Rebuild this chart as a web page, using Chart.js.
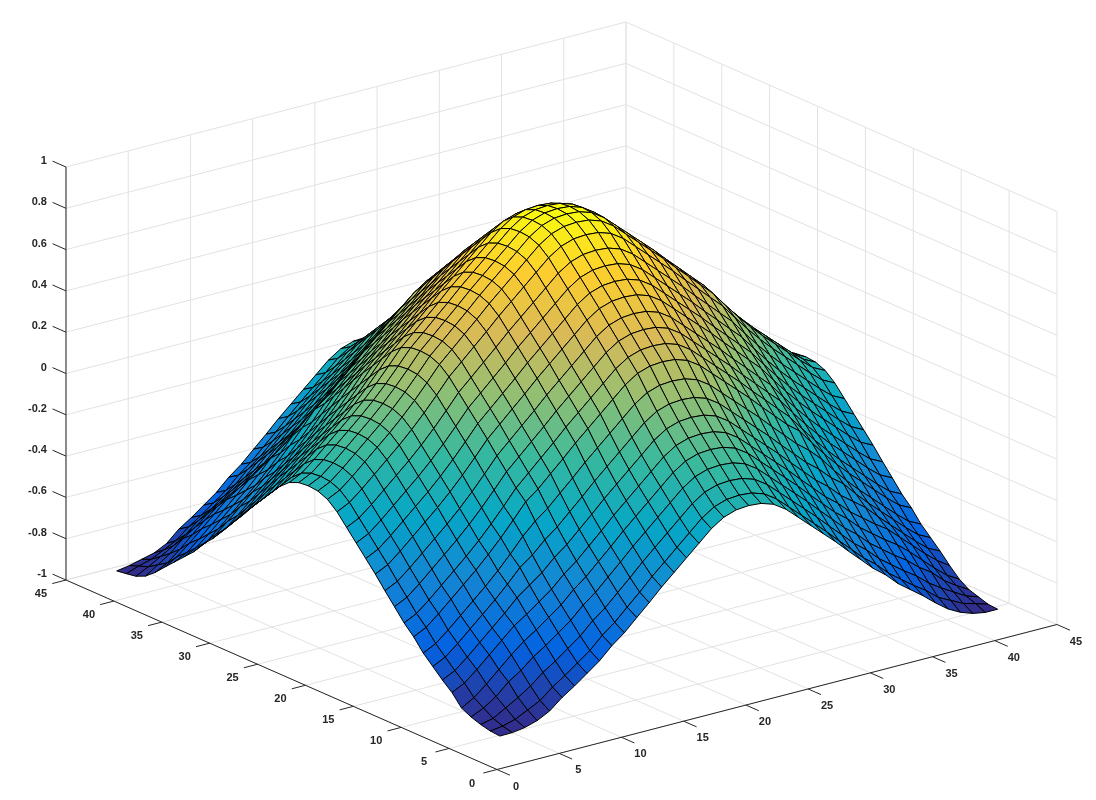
<!DOCTYPE html>
<html>
<head>
<meta charset="utf-8">
<title>Surface</title>
<script src="https://cdn.jsdelivr.net/npm/chart.js@4"></script>
<style>
    html, body { margin: 0; padding: 0; background: #fff; }
    canvas { display: block; }
</style>
</head>
<body>
<canvas id="surface-chart" width="1096" height="800"></canvas>
<script>
// Tick values and labels
const xTicks = [0, 5, 10, 15, 20, 25, 30, 35, 40, 45];
const yTicks = [0, 5, 10, 15, 20, 25, 30, 35, 40, 45];
const zTicks = [-1, -0.8, -0.6, -0.4, -0.2, 0, 0.2, 0.4, 0.6, 0.8, 1];
const zTickLabels = ['-1', '-0.8', '-0.6', '-0.4', '-0.2', '0', '0.2', '0.4', '0.6', '0.8', '1'];

// Grid positions of the surface
const gridX = [1,2,3,4,5,6,7,8,9,10,11,12,13,14,15,16,17,18,19,20,21,22,23,24,25,26,27,28,29,30,31,32,33,34,35,36,37,38,39,40,41];
const gridY = [1,2,3,4,5,6,7,8,9,10,11,12,13,14,15,16,17,18,19,20,21,22,23,24,25,26,27,28,29,30,31,32,33,34,35,36,37,38,39,40,41];

// Heights, one row per gridY
const zRows = [
[-.874,-.873,-.864,-.846,-.815,-.765,-.725,-.68,-.635,-.577,-.53,-.472,-.415,-.355,-.3,-.245,-.19,-.135,-.095,-.075,-.07,-.075,-.095,-.135,-.19,-.245,-.3,-.355,-.415,-.472,-.53,-.577,-.635,-.68,-.725,-.775,-.82,-.852,-.873,-.884,-.884],
[-.87,-.862,-.845,-.815,-.785,-.735,-.695,-.65,-.605,-.547,-.5,-.442,-.385,-.325,-.27,-.215,-.16,-.105,-.065,-.045,-.04,-.045,-.065,-.105,-.16,-.215,-.27,-.325,-.385,-.442,-.5,-.547,-.605,-.65,-.695,-.735,-.785,-.815,-.845,-.862,-.88],
[-.859,-.845,-.81,-.775,-.735,-.685,-.645,-.6,-.555,-.497,-.45,-.392,-.335,-.275,-.22,-.165,-.11,-.055,-.015,.005,.01,.005,-.015,-.055,-.11,-.165,-.22,-.275,-.335,-.392,-.45,-.497,-.555,-.6,-.645,-.685,-.735,-.775,-.81,-.845,-.865],
[-.843,-.815,-.775,-.72,-.68,-.63,-.59,-.545,-.5,-.442,-.395,-.337,-.28,-.22,-.165,-.11,-.055,0,.04,.06,.065,.06,.04,0,-.055,-.11,-.165,-.22,-.28,-.337,-.395,-.442,-.5,-.545,-.59,-.63,-.68,-.72,-.775,-.815,-.85],
[-.82,-.785,-.735,-.68,-.625,-.575,-.535,-.49,-.445,-.387,-.34,-.282,-.225,-.165,-.11,-.055,0,.055,.095,.115,.12,.115,.095,.055,0,-.055,-.11,-.165,-.225,-.282,-.34,-.387,-.445,-.49,-.535,-.575,-.625,-.68,-.735,-.785,-.82],
[-.765,-.735,-.685,-.63,-.575,-.52,-.48,-.435,-.39,-.332,-.285,-.227,-.17,-.11,-.055,0,.055,.11,.15,.17,.175,.17,.15,.11,.055,0,-.055,-.11,-.17,-.227,-.285,-.332,-.39,-.435,-.48,-.52,-.575,-.63,-.685,-.735,-.775],
[-.725,-.695,-.645,-.59,-.535,-.48,-.42,-.375,-.33,-.272,-.225,-.167,-.11,-.05,.005,.06,.115,.17,.21,.23,.235,.23,.21,.17,.115,.06,.005,-.05,-.11,-.167,-.225,-.272,-.33,-.375,-.42,-.48,-.535,-.59,-.645,-.695,-.725],
[-.68,-.65,-.6,-.545,-.49,-.435,-.375,-.31,-.265,-.207,-.16,-.102,-.045,.015,.07,.125,.18,.235,.275,.295,.3,.295,.275,.235,.18,.125,.07,.015,-.045,-.102,-.16,-.207,-.265,-.31,-.375,-.435,-.49,-.545,-.6,-.65,-.68],
[-.635,-.605,-.555,-.5,-.445,-.39,-.33,-.265,-.195,-.137,-.09,-.032,.025,.085,.14,.195,.25,.305,.345,.365,.37,.365,.345,.305,.25,.195,.14,.085,.025,-.032,-.09,-.137,-.195,-.265,-.33,-.39,-.445,-.5,-.555,-.605,-.635],
[-.577,-.547,-.497,-.442,-.387,-.332,-.272,-.207,-.137,-.064,-.017,.041,.098,.158,.213,.268,.323,.378,.418,.438,.443,.438,.418,.378,.323,.268,.213,.158,.098,.041,-.017,-.064,-.137,-.207,-.272,-.332,-.387,-.442,-.497,-.547,-.577],
[-.53,-.5,-.45,-.395,-.34,-.285,-.225,-.16,-.09,-.017,.04,.098,.155,.215,.27,.325,.38,.435,.475,.495,.5,.495,.475,.435,.38,.325,.27,.215,.155,.098,.04,-.017,-.09,-.16,-.225,-.285,-.34,-.395,-.45,-.5,-.53],
[-.472,-.442,-.392,-.337,-.282,-.227,-.167,-.102,-.032,.041,.098,.156,.213,.273,.328,.383,.438,.493,.533,.553,.558,.553,.533,.493,.438,.383,.328,.273,.213,.156,.098,.041,-.032,-.102,-.167,-.227,-.282,-.337,-.392,-.442,-.472],
[-.415,-.385,-.335,-.28,-.225,-.17,-.11,-.045,.025,.098,.155,.213,.27,.33,.385,.44,.495,.55,.59,.61,.615,.61,.59,.55,.495,.44,.385,.33,.27,.213,.155,.098,.025,-.045,-.11,-.17,-.225,-.28,-.335,-.385,-.415],
[-.355,-.325,-.275,-.22,-.165,-.11,-.05,.015,.085,.158,.215,.273,.33,.39,.445,.5,.555,.61,.65,.67,.675,.67,.65,.61,.555,.5,.445,.39,.33,.273,.215,.158,.085,.015,-.05,-.11,-.165,-.22,-.275,-.325,-.355],
[-.3,-.27,-.22,-.165,-.11,-.055,.005,.07,.14,.213,.27,.328,.385,.445,.5,.555,.61,.665,.705,.725,.73,.725,.705,.665,.61,.555,.5,.445,.385,.328,.27,.213,.14,.07,.005,-.055,-.11,-.165,-.22,-.27,-.3],
[-.245,-.215,-.165,-.11,-.055,0,.06,.125,.195,.268,.325,.383,.44,.5,.555,.61,.665,.72,.76,.78,.785,.78,.76,.72,.665,.61,.555,.5,.44,.383,.325,.268,.195,.125,.06,0,-.055,-.11,-.165,-.215,-.245],
[-.19,-.16,-.11,-.055,0,.055,.115,.18,.25,.323,.38,.438,.495,.555,.61,.665,.72,.775,.815,.835,.84,.835,.815,.775,.72,.665,.61,.555,.495,.438,.38,.323,.25,.18,.115,.055,0,-.055,-.11,-.16,-.19],
[-.135,-.105,-.055,0,.055,.11,.17,.235,.305,.378,.435,.493,.55,.61,.665,.72,.775,.83,.87,.89,.895,.89,.87,.83,.775,.72,.665,.61,.55,.493,.435,.378,.305,.235,.17,.11,.055,0,-.055,-.105,-.135],
[-.095,-.065,-.015,.04,.095,.15,.21,.275,.345,.418,.475,.533,.59,.65,.705,.76,.815,.87,.91,.93,.935,.93,.91,.87,.815,.76,.705,.65,.59,.533,.475,.418,.345,.275,.21,.15,.095,.04,-.015,-.065,-.095],
[-.075,-.045,.005,.06,.115,.17,.23,.295,.365,.438,.495,.553,.61,.67,.725,.78,.835,.89,.93,.95,.955,.95,.93,.89,.835,.78,.725,.67,.61,.553,.495,.438,.365,.295,.23,.17,.115,.06,.005,-.045,-.075],
[-.07,-.04,.01,.065,.12,.175,.235,.3,.37,.443,.5,.558,.615,.675,.73,.785,.84,.895,.935,.955,.96,.955,.935,.895,.84,.785,.73,.675,.615,.558,.5,.443,.37,.3,.235,.175,.12,.065,.01,-.04,-.07],
[-.075,-.045,.005,.06,.115,.17,.23,.295,.365,.438,.495,.553,.61,.67,.725,.78,.835,.89,.93,.95,.955,.95,.93,.89,.835,.78,.725,.67,.61,.553,.495,.438,.365,.295,.23,.17,.115,.06,.005,-.045,-.075],
[-.095,-.065,-.015,.04,.095,.15,.21,.275,.345,.418,.475,.533,.59,.65,.705,.76,.815,.87,.91,.93,.935,.93,.91,.87,.815,.76,.705,.65,.59,.533,.475,.418,.345,.275,.21,.15,.095,.04,-.015,-.065,-.095],
[-.135,-.105,-.055,0,.055,.11,.17,.235,.305,.378,.435,.493,.55,.61,.665,.72,.775,.83,.87,.89,.895,.89,.87,.83,.775,.72,.665,.61,.55,.493,.435,.378,.305,.235,.17,.11,.055,0,-.055,-.105,-.135],
[-.19,-.16,-.11,-.055,0,.055,.115,.18,.25,.323,.38,.438,.495,.555,.61,.665,.72,.775,.815,.835,.84,.835,.815,.775,.72,.665,.61,.555,.495,.438,.38,.323,.25,.18,.115,.055,0,-.055,-.11,-.16,-.19],
[-.245,-.215,-.165,-.11,-.055,0,.06,.125,.195,.268,.325,.383,.44,.5,.555,.61,.665,.72,.76,.78,.785,.78,.76,.72,.665,.61,.555,.5,.44,.383,.325,.268,.195,.125,.06,0,-.055,-.11,-.165,-.215,-.245],
[-.3,-.27,-.22,-.165,-.11,-.055,.005,.07,.14,.213,.27,.328,.385,.445,.5,.555,.61,.665,.705,.725,.73,.725,.705,.665,.61,.555,.5,.445,.385,.328,.27,.213,.14,.07,.005,-.055,-.11,-.165,-.22,-.27,-.3],
[-.355,-.325,-.275,-.22,-.165,-.11,-.05,.015,.085,.158,.215,.273,.33,.39,.445,.5,.555,.61,.65,.67,.675,.67,.65,.61,.555,.5,.445,.39,.33,.273,.215,.158,.085,.015,-.05,-.11,-.165,-.22,-.275,-.325,-.355],
[-.415,-.385,-.335,-.28,-.225,-.17,-.11,-.045,.025,.098,.155,.213,.27,.33,.385,.44,.495,.55,.59,.61,.615,.61,.59,.55,.495,.44,.385,.33,.27,.213,.155,.098,.025,-.045,-.11,-.17,-.225,-.28,-.335,-.385,-.415],
[-.472,-.442,-.392,-.337,-.282,-.227,-.167,-.102,-.032,.041,.098,.156,.213,.273,.328,.383,.438,.493,.533,.553,.558,.553,.533,.493,.438,.383,.328,.273,.213,.156,.098,.041,-.032,-.102,-.167,-.227,-.282,-.337,-.392,-.442,-.472],
[-.53,-.5,-.45,-.395,-.34,-.285,-.225,-.16,-.09,-.017,.04,.098,.155,.215,.27,.325,.38,.435,.475,.495,.5,.495,.475,.435,.38,.325,.27,.215,.155,.098,.04,-.017,-.09,-.16,-.225,-.285,-.34,-.395,-.45,-.5,-.53],
[-.577,-.547,-.497,-.442,-.387,-.332,-.272,-.207,-.137,-.064,-.017,.041,.098,.158,.213,.268,.323,.378,.418,.438,.443,.438,.418,.378,.323,.268,.213,.158,.098,.041,-.017,-.064,-.137,-.207,-.272,-.332,-.387,-.442,-.497,-.547,-.577],
[-.635,-.605,-.555,-.5,-.445,-.39,-.33,-.265,-.195,-.137,-.09,-.032,.025,.085,.14,.195,.25,.305,.345,.365,.37,.365,.345,.305,.25,.195,.14,.085,.025,-.032,-.09,-.137,-.195,-.265,-.33,-.39,-.445,-.5,-.555,-.605,-.635],
[-.68,-.65,-.6,-.545,-.49,-.435,-.375,-.31,-.265,-.207,-.16,-.102,-.045,.015,.07,.125,.18,.235,.275,.295,.3,.295,.275,.235,.18,.125,.07,.015,-.045,-.102,-.16,-.207,-.265,-.31,-.375,-.435,-.49,-.545,-.6,-.65,-.68],
[-.725,-.695,-.645,-.59,-.535,-.48,-.42,-.375,-.33,-.272,-.225,-.167,-.11,-.05,.005,.06,.115,.17,.21,.23,.235,.23,.21,.17,.115,.06,.005,-.05,-.11,-.167,-.225,-.272,-.33,-.375,-.42,-.48,-.535,-.59,-.645,-.695,-.725],
[-.77,-.735,-.685,-.63,-.575,-.52,-.48,-.435,-.39,-.332,-.285,-.227,-.17,-.11,-.055,0,.055,.11,.15,.17,.175,.17,.15,.11,.055,0,-.055,-.11,-.17,-.227,-.285,-.332,-.39,-.435,-.48,-.52,-.575,-.63,-.685,-.735,-.765],
[-.816,-.785,-.735,-.68,-.625,-.575,-.535,-.49,-.445,-.387,-.34,-.282,-.225,-.165,-.11,-.055,0,.055,.095,.115,.12,.115,.095,.055,0,-.055,-.11,-.165,-.225,-.282,-.34,-.387,-.445,-.49,-.535,-.575,-.625,-.68,-.735,-.785,-.82],
[-.854,-.815,-.775,-.72,-.68,-.63,-.59,-.545,-.5,-.442,-.395,-.337,-.28,-.22,-.165,-.11,-.055,0,.04,.06,.065,.06,.04,0,-.055,-.11,-.165,-.22,-.28,-.337,-.395,-.442,-.5,-.545,-.59,-.63,-.68,-.72,-.775,-.815,-.843],
[-.875,-.845,-.81,-.775,-.735,-.685,-.645,-.6,-.555,-.497,-.45,-.392,-.335,-.275,-.22,-.165,-.11,-.055,-.015,.005,.01,.005,-.015,-.055,-.11,-.165,-.22,-.275,-.335,-.392,-.45,-.497,-.555,-.6,-.645,-.685,-.735,-.775,-.81,-.845,-.859],
[-.883,-.862,-.845,-.815,-.785,-.735,-.695,-.65,-.605,-.547,-.5,-.442,-.385,-.325,-.27,-.215,-.16,-.105,-.065,-.045,-.04,-.045,-.065,-.105,-.16,-.215,-.27,-.325,-.385,-.442,-.5,-.547,-.605,-.65,-.695,-.735,-.785,-.815,-.845,-.862,-.87],
[-.89,-.88,-.865,-.85,-.82,-.765,-.725,-.68,-.635,-.577,-.53,-.472,-.415,-.355,-.3,-.245,-.19,-.135,-.095,-.075,-.07,-.075,-.095,-.135,-.19,-.245,-.3,-.355,-.415,-.472,-.53,-.577,-.635,-.68,-.725,-.765,-.815,-.846,-.864,-.873,-.874]
];

// Colormap stops (parula)
const parulaStops = ['#352a87', '#0363e1', '#1485d4', '#06a7c6', '#38b99e', '#92bf73', '#d9ba56', '#fcce2e', '#f9fb0e'];

const AXIS_COLOR = '#262626';
const GRID_COLOR = '#e2e2e2';
const MESH_COLOR = '#000000';

// Oblique view of the box: plane position of (x, y, z)
function project(x, y, z) {
    return {
        x: 497 + x * 12.444 - y * 9.578,
        y: 769.5 - x * 3.222 - y * 4.211 - (z + 1) * 206.5
    };
}

function hexToRgb(hex) {
    return [1, 3, 5].map(i => parseInt(hex.substr(i, 2), 16));
}

function colorFor(z, zMin, zMax) {
    const t = Math.max(0, Math.min(1, (z - zMin) / (zMax - zMin))) * (parulaStops.length - 1);
    const i = Math.min(Math.floor(t), parulaStops.length - 2);
    const a = hexToRgb(parulaStops[i]);
    const b = hexToRgb(parulaStops[i + 1]);
    const c = a.map((v, k) => Math.round(v + (b[k] - v) * (t - i)));
    return 'rgb(' + c.join(',') + ')';
}

function lineDataset(p1, p2, color, width) {
    return {
        data: [project(...p1), project(...p2)],
        showLine: true,
        fill: false,
        borderColor: color,
        borderWidth: width,
        pointRadius: 0
    };
}

const datasets = [];

// Surface cells, nearest first because the first dataset is painted last
const zAll = zRows.flat();
const zMin = Math.min(...zAll);
const zMax = Math.max(...zAll);
const cells = [];
for (let j = 0; j < gridY.length - 1; j++) {
    for (let i = 0; i < gridX.length - 1; i++) {
        cells.push({ i, j });
    }
}
cells.sort((a, b) => (a.i + a.j) - (b.i + b.j));
cells.forEach(({ i, j }) => {
    datasets.push({
        data: [
            project(gridX[i], gridY[j], zRows[j][i]),
            project(gridX[i + 1], gridY[j], zRows[j][i + 1]),
            project(gridX[i + 1], gridY[j + 1], zRows[j + 1][i + 1]),
            project(gridX[i], gridY[j + 1], zRows[j + 1][i]),
            project(gridX[i], gridY[j], zRows[j][i])
        ],
        showLine: true,
        fill: 'shape',
        tension: 0,
        backgroundColor: colorFor(zRows[j][i], zMin, zMax),
        borderColor: MESH_COLOR,
        borderWidth: 1,
        borderJoinStyle: 'round',
        pointRadius: 0
    });
});

// Axis lines and tick marks
datasets.push(lineDataset([0, 45, -1], [0, 45, 1], AXIS_COLOR, 1));
datasets.push(lineDataset([0, 0, -1], [45, 0, -1], AXIS_COLOR, 1));
datasets.push(lineDataset([0, 0, -1], [0, 45, -1], AXIS_COLOR, 1));
xTicks.forEach(t => datasets.push(lineDataset([t, 0, -1], [t, -1.35, -1], AXIS_COLOR, 1)));
yTicks.forEach(t => datasets.push(lineDataset([0, t, -1], [-1.1, t, -1], AXIS_COLOR, 1)));
zTicks.forEach(t => datasets.push(lineDataset([0, 45, t], [0, 46.4, t], AXIS_COLOR, 1)));

// Grid on the floor and the two back walls
xTicks.forEach(t => {
    datasets.push(lineDataset([t, 0, -1], [t, 45, -1], GRID_COLOR, 1));
    datasets.push(lineDataset([t, 45, -1], [t, 45, 1], GRID_COLOR, 1));
});
yTicks.forEach(t => {
    datasets.push(lineDataset([0, t, -1], [45, t, -1], GRID_COLOR, 1));
    datasets.push(lineDataset([45, t, -1], [45, t, 1], GRID_COLOR, 1));
});
zTicks.forEach(t => {
    datasets.push(lineDataset([0, 45, t], [45, 45, t], GRID_COLOR, 1));
    datasets.push(lineDataset([45, 0, t], [45, 45, t], GRID_COLOR, 1));
});

// Tick labels, placed from the same projection
const tickLabelPlugin = {
    id: 'tickLabels',
    afterDatasetsDraw(chart) {
        const { ctx, scales } = chart;
        const put = (text, p, dx, dy, align) => {
            ctx.textAlign = align;
            ctx.fillText(text, scales.x.getPixelForValue(p.x) + dx, scales.y.getPixelForValue(p.y) + dy);
        };
        ctx.save();
        ctx.font = "bold 11px 'Liberation Sans', sans-serif";
        ctx.fillStyle = AXIS_COLOR;
        ctx.textBaseline = 'middle';
        xTicks.forEach(t => put(String(t), project(t, 0, -1), 19, 17, 'center'));
        yTicks.forEach(t => put(String(t), project(0, t, -1), -25, 14, 'center'));
        zTicks.forEach((t, k) => put(zTickLabels[k], project(0, 45, t), -19, -6, 'right'));
        ctx.restore();
    }
};

new Chart(document.getElementById('surface-chart'), {
    type: 'scatter',
    data: { datasets },
    options: {
        responsive: false,
        animation: false,
        events: [],
        layout: { padding: 0 },
        plugins: {
            legend: { display: false },
            tooltip: { enabled: false }
        },
        scales: {
            x: { type: 'linear', display: false, min: 0, max: 1096 },
            y: { type: 'linear', display: false, min: 0, max: 800, reverse: true }
        }
    },
    plugins: [tickLabelPlugin]
});
</script>
</body>
</html>
